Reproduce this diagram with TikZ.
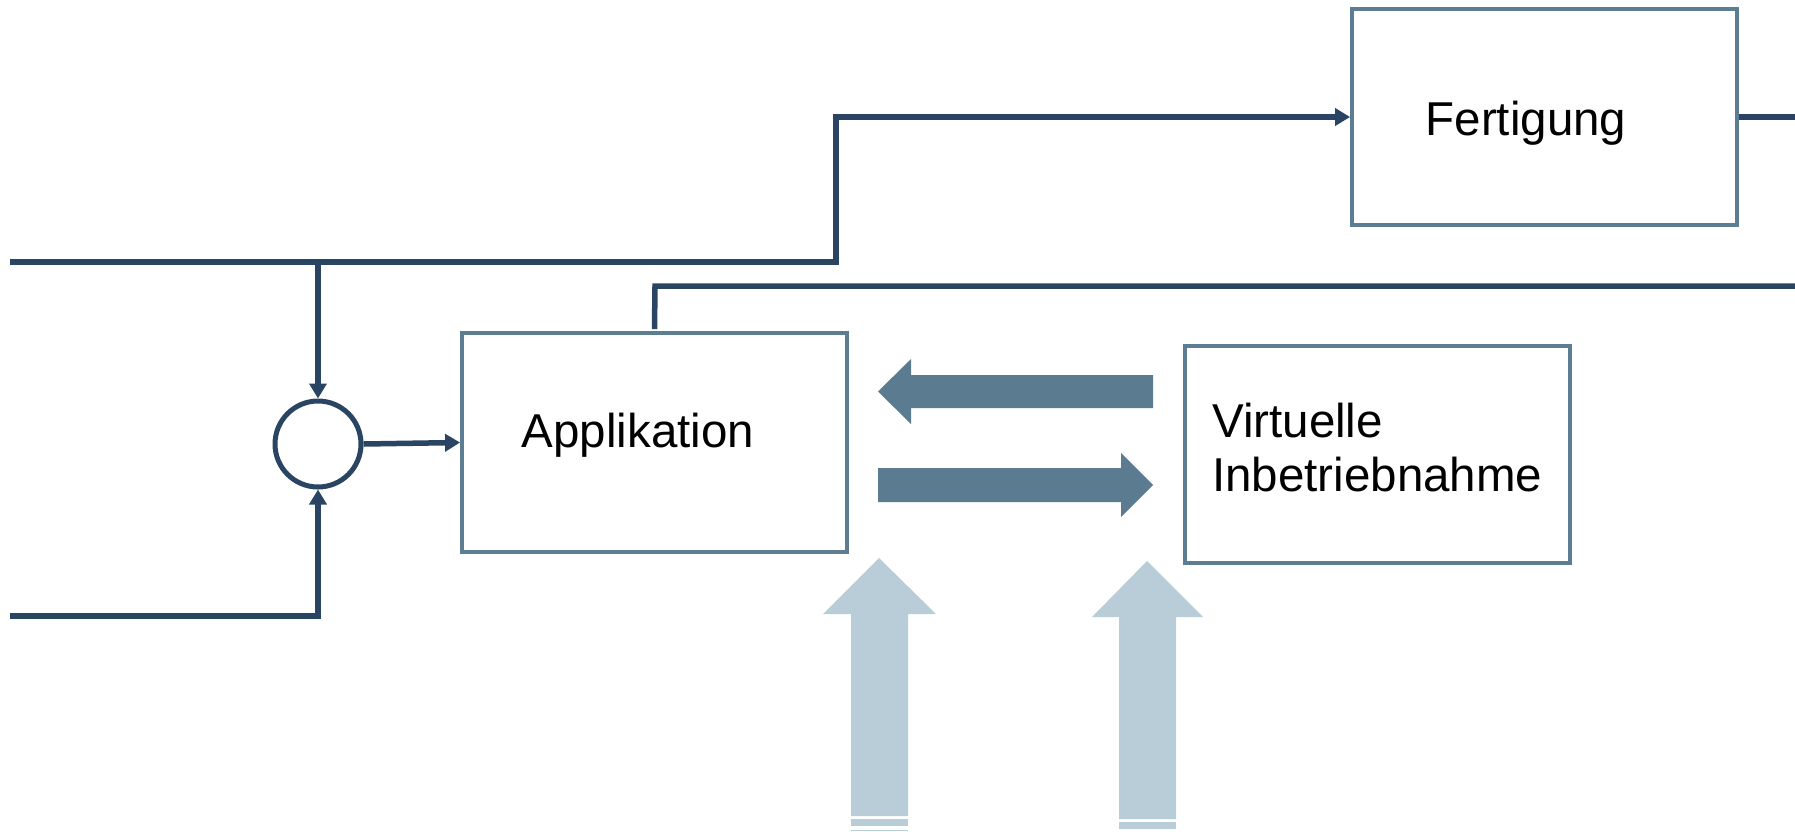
\documentclass[tikz,border=0pt]{standalone}
\usepackage{fontspec}
\setmainfont{Liberation Sans}
\usetikzlibrary{arrows.meta}
\definecolor{navy}{HTML}{2A4563}
\definecolor{boxc}{HTML}{5D7D92}
\definecolor{bigarr}{HTML}{5A7B90}
\definecolor{lightarr}{HTML}{B9CDD8}
\tikzset{
  wire/.style={draw=navy, line width=5.5pt, line join=miter},
  tip/.style={-{Triangle[length=15pt,width=17pt]}},
  box/.style={draw=boxc, line width=3.8pt, fill=white, inner sep=0pt},
  lbl/.style={font=\fontsize{47.5pt}{55pt}\selectfont, inner sep=0pt, text=black},
  bigarrow/.style={fill=bigarr, draw=none},
  lightarrow/.style={fill=lightarr, draw=none}
}
\begin{document}
\begin{tikzpicture}[x=1pt,y=-1pt]
\useasboundingbox (0,0) rectangle (1795,831);
% boxes
\node[box, minimum width=385pt, minimum height=216pt] (fert) at (1544.5,117) {};
\node[lbl, anchor=base] (fertl) at (1526,135) {Fertigung};
\node[box, minimum width=385pt, minimum height=219pt] (app) at (654.5,442.5) {};
\node[lbl, anchor=base] (appl) at (638,447) {Applikation};
\node[box, minimum width=385pt, minimum height=217pt] (vib) at (1377.5,454.5) {};
\node[lbl, anchor=base west, align=left] (vibl1) at (1212,437) {Virtuelle};
\node[lbl, anchor=base west, align=left] (vibl2) at (1212,491) {Inbetriebnahme};
% summing circle
\node[draw=navy, line width=5pt, circle, minimum size=86pt, inner sep=0pt] (sum) at (318,444) {};
% coordinates
\coordinate (l1) at (10,262);
\coordinate (j1) at (318,262);
\coordinate (k1) at (836,262);
\coordinate (k2) at (836,117);
\coordinate (rEnd1) at (1795,117);
\coordinate (l2) at (10,616);
\coordinate (j2) at (318,616);
\coordinate (a1) at (655,286);
\coordinate (rEnd2) at (1795,286);
% wires
\draw[wire, tip] (l1) -- (k1) -- (k2) -- (fert.west);
\draw[wire] (fert.east) -- (rEnd1);
\draw[wire, tip] (j1) -- (sum.north);
\draw[wire, tip] (l2) -- (j2) -- (sum.south);
\draw[wire, tip] (sum.east) -- (app.west);
\draw[wire] (app.north) ++(0,-1.9) -- (a1) -- (rEnd2);
% big horizontal arrows
\fill[bigarrow] (1153,375) -- (911,375) -- (911,359) -- (878,391.5) -- (911,424) -- (911,408) -- (1153,408) -- cycle;
\fill[bigarrow] (878,468) -- (1121,468) -- (1121,453) -- (1153,485) -- (1121,517) -- (1121,502) -- (878,502) -- cycle;
% light vertical arrows
\fill[lightarrow] (851,816) -- (851,614) -- (823,614) -- (879,558) -- (936,614) -- (908,614) -- (908,816) -- cycle;
\fill[lightarrow] (851,819) rectangle (908,826);
\fill[lightarrow] (851,830) rectangle (908,831);
\fill[lightarrow] (1119,819) -- (1119,617) -- (1092,617) -- (1147,561) -- (1203,617) -- (1176,617) -- (1176,819) -- cycle;
\fill[lightarrow] (1119,822) rectangle (1176,829);
\end{tikzpicture}
\end{document}
